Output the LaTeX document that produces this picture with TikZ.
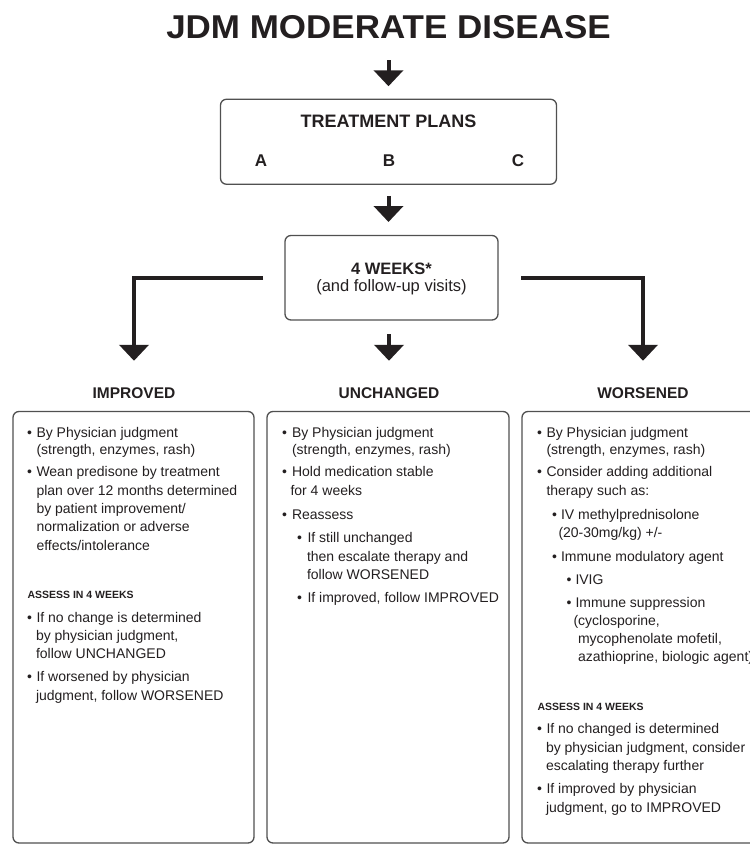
\documentclass[tikz,border=0pt]{standalone}
\usepackage{fontspec}
\setmainfont{Liberation Sans}
\newfontfamily\titlefont[FakeStretch=1.06]{Liberation Sans}
\usetikzlibrary{arrows.meta}
\definecolor{ink}{HTML}{231F20}
\definecolor{frame}{HTML}{505050}
\tikzset{
  every node/.style={inner sep=0pt, outer sep=0pt, text=ink},
  txt/.style={anchor=base west, font=\fontsize{14}{17}\selectfont},
  bul/.style={anchor=base, font=\fontsize{14}{17}\selectfont},
  assess/.style={anchor=base west, font=\fontsize{10.5}{12}\selectfont\bfseries},
  head/.style={anchor=base, font=\fontsize{15.5}{18}\selectfont\bfseries},
  panel/.style={draw=frame, line width=1.3pt, rounded corners=6pt},
  arr/.style={draw=ink, line width=4pt, -{Triangle[width=29pt,length=16pt]}},
}
\begin{document}
\begin{tikzpicture}[x=1pt,y=-1pt]
\useasboundingbox (0,0) rectangle (750,844);

% title
\node[anchor=base, font=\titlefont\fontsize{33}{36}\selectfont\bfseries] (title) at (388.5,38.5) {JDM MODERATE DISEASE};

% treatment plans
\node[panel, minimum width=336pt, minimum height=85pt] (tp) at (388.5,141.75) {};
\node[anchor=base, font=\fontsize{18}{20}\selectfont\bfseries] (tpt) at (388.5,127.5) {TREATMENT PLANS};
\node[anchor=base, font=\fontsize{17}{20}\selectfont\bfseries] (pa) at (261,166.5) {A};
\node[anchor=base, font=\fontsize{17}{20}\selectfont\bfseries] (pb) at (389,166.5) {B};
\node[anchor=base, font=\fontsize{17}{20}\selectfont\bfseries] (pc) at (518,166.5) {C};

% 4 weeks
\node[panel, minimum width=213pt, minimum height=84.5pt] (wk) at (391.5,277.75) {};
\node[anchor=base, font=\fontsize{16.5}{19}\selectfont\bfseries] (wkt) at (391.5,274) {4 WEEKS*};
\node[anchor=base, font=\fontsize{16.5}{19}\selectfont] (wks) at (391.5,291) {(and follow-up visits)};

% headings
\node[head] (hImp) at (134,398) {IMPROVED};
\node[head] (hUnc) at (389,398) {UNCHANGED};
\node[head] (hWor) at (643,398) {WORSENED};

% arrows
\draw[arr, shorten <=21.5pt, shorten >=13pt] (title.south -| tp.north) -- (tp.north);
\draw[arr, shorten <=11.5pt, shorten >=13.5pt] (tp.south) -- (tp.south |- wk.north);
\draw[arr, shorten <=22pt, shorten >=26.4pt] (wk.west) -| (hImp.north);
\draw[arr, shorten <=23pt, shorten >=26.4pt] (wk.east) -| (hWor.north);
\draw[arr, shorten <=14pt, shorten >=26.4pt] (hUnc.north |- wk.south) -- (hUnc.north);

% panels
\node[panel, minimum width=241pt, minimum height=431.5pt] (bImp) at (133.5,627.25) {};
\node[panel, minimum width=242pt, minimum height=431.5pt] (bUnc) at (388,627.25) {};
\node[panel, minimum width=253pt, minimum height=431.5pt] (bWor) at (648.5,627.25) {};

% bullets
\foreach \n/\x/\y in {
  ib1/29.5/437, ib2/29.5/476.5, ib3/29.5/622.5, ib4/29.5/681.5,
  ub1/284.5/437, ub2/284.5/476.5, ub3/284.5/519, ub4/299.5/542.5, ub5/299.5/602.5,
  wb1/539.5/437, wb2/539.5/476.5, wb3/554.5/519, wb4/554.5/561, wb5/569/584, wb6/569/607.5,
  wb7/539.5/733.5, wb8/539.5/793.5}
  \node[bul] (\n) at (\x,\y) {•};

% improved text
\foreach \n/\x/\y/\t in {
  i1/36.5/437/{By Physician judgment},
  i2/36.5/454/{(strength, enzymes, rash)},
  i3/36.5/476.5/{Wean predisone by treatment},
  i4/36.5/495/{plan over 12 months determined},
  i5/36.5/513/{by patient improvement/},
  i6/36.5/531.5/{normalization or adverse},
  i7/36.5/550/{effects/intolerance},
  i8/36.5/622.5/{If no change is determined},
  i9/36/640.5/{by physician judgment,},
  i10/36/658.5/{follow UNCHANGED},
  i11/36.5/681.5/{If worsened by physician},
  i12/36/700/{judgment, follow WORSENED}}
  \node[txt] (\n) at (\x,\y) {\t};
\node[assess] (iass) at (27.5,598) {ASSESS IN 4 WEEKS};

% unchanged text
\foreach \n/\x/\y/\t in {
  u1/292/437/{By Physician judgment},
  u2/292/454/{(strength, enzymes, rash)},
  u3/292/476.5/{Hold medication stable},
  u4/290.5/495.5/{for 4 weeks},
  u5/292/519/{Reassess},
  u6/307.5/542.5/{If still unchanged},
  u7/307/561/{then escalate therapy and},
  u8/307/579.5/{follow WORSENED},
  u9/307.5/602.5/{If improved, follow IMPROVED}}
  \node[txt] (\n) at (\x,\y) {\t};

% worsened text
\foreach \n/\x/\y/\t in {
  w1/546.5/437/{By Physician judgment},
  w2/546.5/454/{(strength, enzymes, rash)},
  w3/546.5/476.5/{Consider adding additional},
  w4/546.5/495/{therapy such as:},
  w5/561/519/{IV methylprednisolone},
  w6/558.5/537.5/{(20-30mg/kg) +/-},
  w7/561/561/{Immune modulatory agent},
  w8/575.5/584/{IVIG},
  w9/575.5/607.5/{Immune suppression},
  w10/573.5/625.5/{(cyclosporine,},
  w11/578/643.5/{mycophenolate mofetil,},
  w12/578/661.5/{azathioprine, biologic agent)},
  w13/546.5/733.5/{If no changed is determined},
  w14/546/752/{by physician judgment, consider},
  w15/546/770/{escalating therapy further},
  w16/546.5/793.5/{If improved by physician},
  w17/546/812/{judgment, go to IMPROVED}}
  \node[txt] (\n) at (\x,\y) {\t};
\node[assess] (wass) at (537.5,710.5) {ASSESS IN 4 WEEKS};
\end{tikzpicture}
\end{document}
